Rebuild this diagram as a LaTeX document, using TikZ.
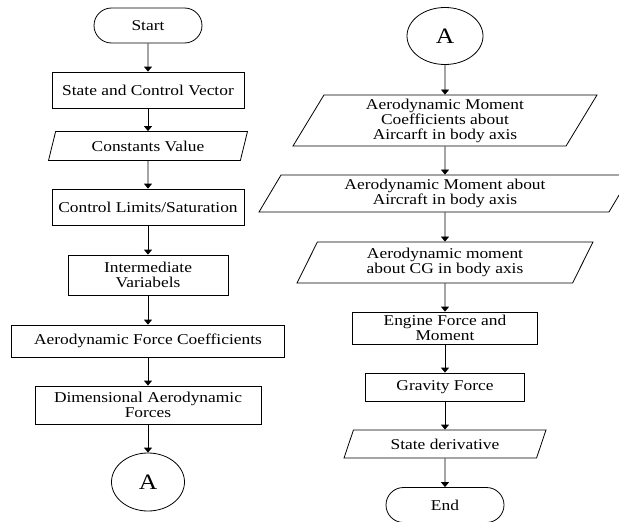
\documentclass[tikz,border=0pt]{standalone}
\usepackage{fontspec}
\setmainfont{Liberation Serif}[FakeStretch=1.16]
\usetikzlibrary{shapes.geometric,shapes.misc,arrows.meta}

\begin{document}
\begin{tikzpicture}[
    x=1pt, y=-1pt,
    base/.style={draw, line width=0.8pt, inner sep=2pt, align=center,
        font=\fontsize{15}{15}\selectfont},
    process/.style={base, rectangle, minimum width=#1},
    io/.style={base, trapezium, trapezium stretches body,
        trapezium left angle=#1, trapezium right angle=180-#1},
    term/.style={base, rounded rectangle, minimum width=#1, minimum height=35pt},
    connector/.style={base, ellipse, inner sep=0pt,
        font=\fontsize{22}{22}\selectfont},
    flow/.style={-{Triangle[length=5pt,width=8pt]}, line width=0.8pt}
]
    \useasboundingbox (0,0) rectangle (619,522);

    % Left column
    \node[term=112] (start) at (148,25.5) {Start};
    \node[process=192, minimum height=36pt] (scv) at (148,90) {State and Control Vector};
    \node[io=64, minimum width=199pt, minimum height=29pt] (cv) at (148,146) {Constants Value};
    \node[process=192, minimum height=36pt] (cls) at (148,207) {Control Limits/Saturation};
    \node[process=160, minimum height=40pt] (iv) at (148,275) {Intermediate\\Variabels};
    \node[process=273, minimum height=32pt] (afc) at (148,341) {Aerodynamic Force Coefficients};
    \node[process=226, minimum height=38pt] (daf) at (148,405) {Dimensional Aerodynamic\\Forces};
    \node[connector, minimum width=73pt, minimum height=58pt] (a1) at (148,482) {A};

    % Right column
    \node[connector, minimum width=76pt, minimum height=57pt] (a2) at (445,36) {A};
    \node[io=57, minimum width=304pt, minimum height=51pt] (amc) at (445,120.5)
        {Aerodynamic Moment\\Coefficients about\\Aircarft in body axis};
    \node[io=56, minimum width=372pt, minimum height=37pt] (ama) at (445,193.5)
        {Aerodynamic Moment about\\Aircraft in body axis};
    \node[io=58, minimum width=296pt, minimum height=41pt] (amcg) at (445,262.5)
        {Aerodynamic moment\\about CG in body axis};
    \node[process=185, minimum height=32pt] (efm) at (445,328) {Engine Force and\\Moment};
    \node[process=159, minimum height=28pt] (gf) at (445,387) {Gravity Force};
    \node[io=57, minimum width=202pt, minimum height=28pt] (sd) at (445,444) {State derivative};
    \node[term=122] (end) at (445,505) {End};

    % Arrows
    \foreach \from/\to in {start/scv, scv/cv, cv/cls, cls/iv, iv/afc, afc/daf, daf/a1,
        a2/amc, amc/ama, ama/amcg, amcg/efm, efm/gf, gf/sd, sd/end}
        \draw[flow] (\from) -- (\to);

\end{tikzpicture}
\end{document}
